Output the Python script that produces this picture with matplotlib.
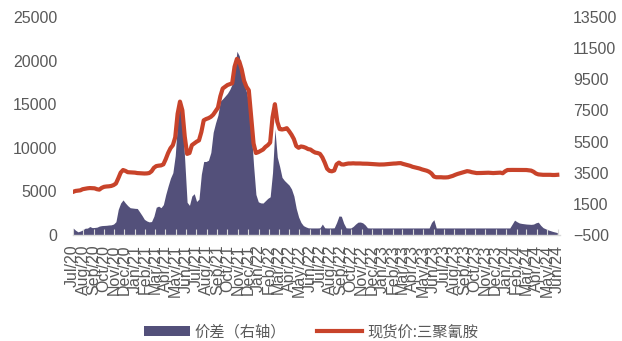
import matplotlib
matplotlib.use("Agg")
import matplotlib.pyplot as plt
from matplotlib.patches import Patch
from matplotlib.lines import Line2D
import pandas as pd

# Weekly observations, starting 2020-07-03
start_date = "2020-07-03"

# 现货价:三聚氰胺 (left axis, yuan/ton)
spot_price = [
    4950, 5050, 5080, 5120, 5250, 5300, 5350, 5380, 5370, 5350,
    5250, 5200, 5400, 5520, 5560, 5580, 5620, 5720, 5900, 6500,
    7150, 7450, 7350, 7200, 7180, 7170, 7150, 7100, 7080, 7050,
    7050, 7060, 7100, 7300, 7700, 7900, 7950, 7980, 8100, 8700,
    9400, 9950, 10300, 11200, 13900, 15300, 14300, 11300, 9300, 9400,
    10300, 10500, 10700, 10850, 11800, 13150, 13300, 13400, 13550, 13800,
    14200, 14600, 15900, 16800, 17000, 17200, 17300, 17400, 19300, 20200,
    19900, 19000, 17700, 17000, 16600, 13600, 10500, 9400, 9500, 9650,
    9800, 10100, 10300, 10600, 13500, 15000, 13000, 12150, 12100, 12150,
    12250, 11900, 11500, 11000, 10200, 10000, 10150, 10100, 10000, 9850,
    9800, 9600, 9450, 9400, 9300, 8900, 8300, 7600, 7350, 7300,
    7400, 8100, 8300, 8100, 8080, 8150, 8200, 8200, 8220, 8200,
    8200, 8200, 8180, 8180, 8170, 8150, 8140, 8120, 8100, 8080,
    8080, 8090, 8110, 8140, 8170, 8190, 8200, 8230, 8240, 8150,
    8080, 8000, 7930, 7820, 7750, 7680, 7620, 7520, 7450, 7370,
    7250, 7050, 6700, 6620, 6620, 6620, 6600, 6600, 6620, 6700,
    6780, 6900, 7000, 7080, 7150, 7250, 7320, 7280, 7200, 7150,
    7100, 7100, 7110, 7120, 7130, 7140, 7120, 7100, 7120, 7150,
    7150, 7080, 7300, 7450, 7460, 7460, 7460, 7460, 7460, 7450,
    7450, 7450, 7420, 7380, 7250, 7050, 6950, 6920, 6900, 6900,
    6900, 6900, 6880, 6880, 6900,
]

# 价差 (right axis)
spread = [
    -60, -200, -300, -250, -180, -70, -60, 40, -30, -20,
    0, 70, 100, 110, 120, 140, 150, 200, 350, 1150,
    1550, 1750, 1550, 1380, 1250, 1230, 1210, 1200, 980, 750,
    500, 400, 340, 360, 700, 1280, 1350, 1250, 1450, 2100,
    2650, 3150, 3500, 4600, 6800, 8000, 6900, 4300, 1600, 1400,
    2000, 2150, 1650, 1800, 3400, 4220, 4220, 4300, 4800, 6100,
    6700, 7200, 8100, 8250, 8420, 8600, 8850, 9200, 10000, 11300,
    11000, 10000, 9200, 8700, 8000, 6300, 4000, 2100, 1630, 1560,
    1550, 1700, 1850, 1950, 3500, 6300, 4500, 3900, 3200, 3000,
    2850, 2700, 2450, 2000, 1200, 650, 300, 100, 20, -40,
    -50, -50, -50, -50, -40, 200, -40, -50, -50, -50,
    -40, 300, 720, 700, 250, -40, -50, -50, 50, 200,
    320, 330, 280, 150, -40, -50, -50, -50, -50, -50,
    -50, -50, -50, -50, -50, -50, -50, -50, -50, -50,
    -50, -50, -50, -50, -50, -50, -50, -50, -50, -50,
    -50, 300, 480, -50, -50, -50, -50, -50, -50, -50,
    -50, -50, -50, -50, -50, -50, -50, -50, -50, -50,
    -50, -50, -50, -50, -50, -50, -50, -50, -50, -50,
    -50, -50, -50, -50, -50, 200, 450, 350, 270, 240,
    220, 200, 190, 180, 200, 280, 320, 120, -30, -100,
    -170, -220, -270, -310, -350,
]

dates = pd.date_range(start_date, periods=len(spot_price), freq="7D")
month_starts = pd.date_range("2020-07-01", "2024-06-01", freq="MS")
month_labels = [d.strftime("%b/%y") for d in month_starts]

left_ticks = [0, 5000, 10000, 15000, 20000, 25000]
right_ticks = [-500, 1500, 3500, 5500, 7500, 9500, 11500, 13500]

area_color = "#53507A"
line_color = "#C8432A"
text_color = "#595959"
axis_color = "#D9D9D9"

plt.rcParams["font.family"] = ["Liberation Sans", "DejaVu Sans"]
cjk = ["Noto Sans CJK SC", "DejaVu Sans"]

fig = plt.figure(figsize=(6.22, 3.41), dpi=100)
ax = fig.add_axes([0.1166, 0.311, 0.7837, 0.639])
ax2 = ax.twinx()

ax2.fill_between(dates, spread, -500, color=area_color, lw=0)
ax2.set_ylim(-500, 13500)
ax2.set_yticks(right_ticks)

ax.plot(dates, spot_price, color=line_color, lw=3.0, solid_joinstyle="round")
ax.set_ylim(0, 25000)
ax.set_yticks(left_ticks)

# line axes drawn above the area axes
ax.set_zorder(ax2.get_zorder() + 1)
ax.patch.set_visible(False)

ax.set_xlim(pd.Timestamp("2020-07-01"), pd.Timestamp("2024-06-08"))
ax.set_xticks(month_starts)
ax.set_xticklabels(month_labels, rotation=90, fontsize=11.5, color=text_color)

for a in (ax, ax2):
    for s in ("top", "left", "right"):
        a.spines[s].set_visible(False)
ax2.spines["bottom"].set_visible(False)
ax.spines["bottom"].set_color(axis_color)
ax.spines["bottom"].set_linewidth(1.0)

ax.tick_params(axis="x", direction="in", length=4, color=axis_color, pad=7)
ax.tick_params(axis="y", length=0, labelsize=11.5, labelcolor=text_color, pad=11)
ax2.tick_params(axis="y", length=0, labelsize=11.5, labelcolor=text_color, pad=9.5)

handles = [
    Patch(facecolor=area_color, edgecolor="none", label="价差（右轴）"),
    Line2D([], [], color=line_color, lw=3.0, label="现货价:三聚氰胺"),
]
fig.legend(handles=handles, loc="center", bbox_to_anchor=(0.5, 0.027),
           ncol=2, frameon=False, prop={"family": cjk, "size": 11},
           handlelength=3.0, handletextpad=0.3, columnspacing=2.0,
           labelcolor=text_color)

fig.savefig("out.png", dpi=100)
